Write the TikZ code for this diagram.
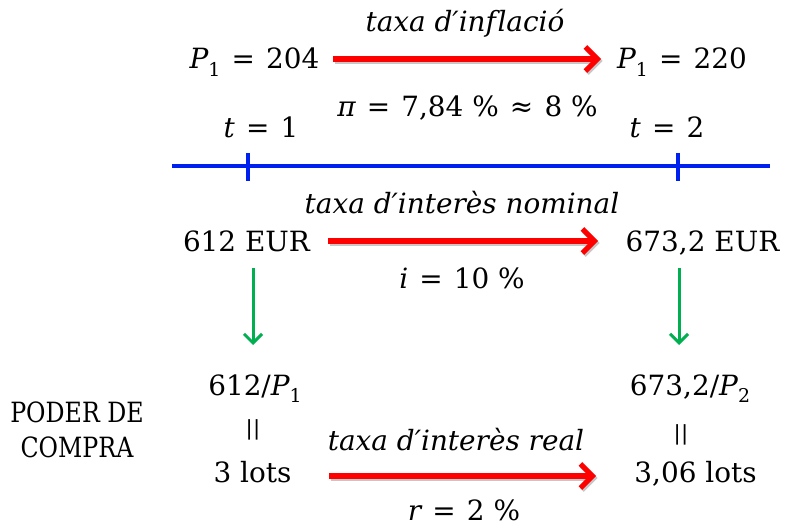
\documentclass[tikz,border=0pt]{standalone}
\usepackage{fontspec}
\newfontfamily\sfont{DejaVu Serif}
\newfontfamily\cfont[FakeStretch=0.85]{DejaVu Serif}
\newfontfamily\barfont{Liberation Sans}
\usetikzlibrary{arrows.meta}
\definecolor{arrred}{RGB}{255,0,0}
\definecolor{arrgreen}{RGB}{0,176,80}
\definecolor{lineblue}{RGB}{0,32,240}
\newcommand\vi[1]{{\itshape #1}}
\newcommand\sbs[1]{\raisebox{-0.28em}{\fontsize{19}{20}\selectfont #1}}
\newcommand\rl[1]{\hspace{0.4em}#1\hspace{0.4em}}
\tikzset{
  txt/.style={inner sep=0pt, anchor=base, font=\sfont\fontsize{28}{32}\selectfont},
  ptext/.style={inner sep=0pt, anchor=base, align=center, font=\cfont\fontsize{28}{35}\selectfont},
  bars/.style={inner sep=0pt, font=\barfont\fontsize{22}{24}\selectfont},
  redarrow/.style={draw=arrred, line width=5.5bp, -{Straight Barb[length=12bp,width=24bp,line width=5bp]}},
  shadowarrow/.style={draw=black!22, line width=5.5bp, -{Straight Barb[length=12bp,width=24bp,line width=5bp]}},
  greenarrow/.style={draw=arrgreen, line width=3bp, -{Straight Barb[length=9bp,width=18bp,line width=3bp]}},
  bluel/.style={draw=lineblue, line width=3.5bp}
}
\begin{document}
\begin{tikzpicture}[x=1bp,y=-1bp]
\useasboundingbox (0,0) rectangle (798,524);
% row 1
\node[txt] (p1a) at (254.5,69) {\vi{P}\sbs{1}\rl{=}204};
\node[txt] (p1b) at (682,69) {\vi{P}\sbs{1}\rl{=}220};
\node[txt] (inf) at (465,32) {\vi{taxa d′inf\kern1.5pt lació}};
\node[txt] (pi) at (467.5,117) {\vi{π}\rl{=}7,84 \%\rl{≈}8 \%};
\node[txt] (t1) at (261,138) {\vi{t}\rl{=}1};
\node[txt] (t2) at (667,138) {\vi{t}\rl{=}2};
% time line
\coordinate (bl) at (172,166);
\coordinate (br) at (770,166);
\coordinate (k1t) at (248,153);
\coordinate (k1b) at (248,181);
\coordinate (k2t) at (678,153);
\coordinate (k2b) at (678,181);
\draw[bluel] (bl) -- (br);
\draw[bluel] (k1t) -- (k1b);
\draw[bluel] (k2t) -- (k2b);
% row 2
\node[txt] (nom) at (462,214) {\vi{taxa d′interès nominal}};
\node[txt] (e1) at (246.5,252) {612 EUR};
\node[txt] (e2) at (702.5,252) {673,2 EUR};
\node[txt] (ir) at (462,289) {\vi{i}\rl{=}10 \%};
% green arrows
\coordinate (g1s) at (253,268);
\coordinate (g1e) at (253,345);
\coordinate (g2s) at (679,268);
\coordinate (g2e) at (679,345);
\draw[greenarrow] (g1s) -- (g1e);
\draw[greenarrow] (g2s) -- (g2e);
% row 3
\node[txt] (f1) at (255,395) {612/\vi{P}\sbs{1}};
\node[txt] (f2) at (690,395) {673,2/\vi{P}\sbs{2}};
\node[bars] (q1) at (253,430) {|\kern2pt|};
\node[bars] (q2) at (681,435) {|\kern2pt|};
\node[ptext] (pc) at (77,457) {PODER DE\\COMPRA};
\node[txt] (real) at (456,450) {\vi{taxa d′interès real}};
\node[txt] (l1) at (252.5,482) {3 lots};
\node[txt] (l2) at (695.5,482) {3,06 lots};
\node[txt] (rr) at (464,520) {\vi{r}\rl{=}2 \%};
% red arrows
\coordinate (r1s) at (333,59);
\coordinate (r1e) at (601,59);
\coordinate (r2s) at (328,241);
\coordinate (r2e) at (598,241);
\coordinate (r3s) at (329,476);
\coordinate (r3e) at (596,476);
\draw[shadowarrow, transform canvas={shift={(1.5bp,-2bp)}}] (r1s) -- (r1e);
\draw[redarrow] (r1s) -- (r1e);
\draw[shadowarrow, transform canvas={shift={(1.5bp,-2bp)}}] (r2s) -- (r2e);
\draw[redarrow] (r2s) -- (r2e);
\draw[shadowarrow, transform canvas={shift={(1.5bp,-2bp)}}] (r3s) -- (r3e);
\draw[redarrow] (r3s) -- (r3e);
\end{tikzpicture}
\end{document}
